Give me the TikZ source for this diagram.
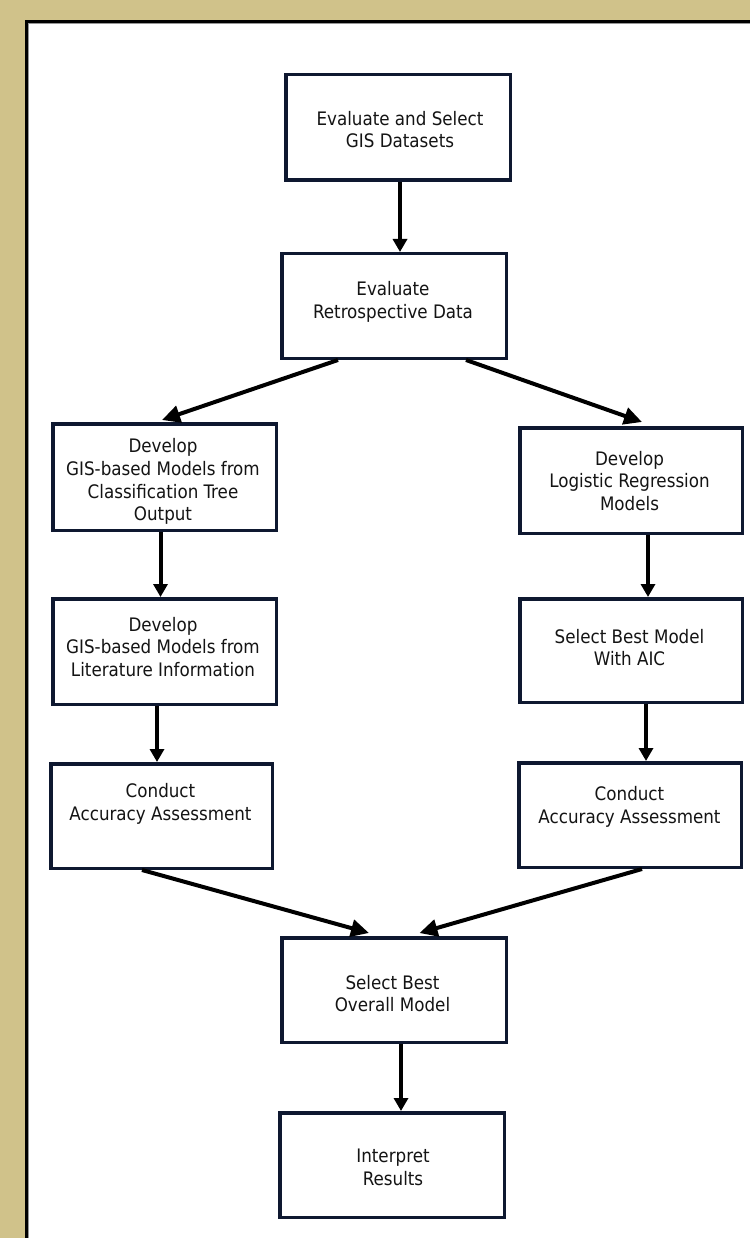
\documentclass[tikz,border=0pt]{standalone}
\usepackage{fontspec}
\setmainfont{DejaVu Sans Condensed}
\usetikzlibrary{arrows.meta,calc}
\definecolor{framebg}{RGB}{208,194,138}
\definecolor{boxc}{RGB}{14,24,48}
\definecolor{textc}{RGB}{20,20,20}
\definecolor{edgegray}{RGB}{150,150,150}
\begin{document}
\begin{tikzpicture}[x=1pt,y=-1pt,
  box/.style 2 args={draw=boxc,line width=3.5pt,fill=white,minimum width=#1,minimum height=#2,inner sep=0pt},
  txt/.style={font=\fontsize{18.6}{22.8}\selectfont,align=center,text=textc,inner sep=0pt},
  arr/.style={line width=4pt,-{Triangle[length=13pt,width=14pt]}},
  darr/.style={line width=4pt,-{Triangle[length=18pt,width=17pt]}}]
\useasboundingbox (0,0) rectangle (750,1238);
% frame
\fill[framebg] (0,0) rectangle (750,1238);
\fill[black] (25,20) rectangle (750,1238);
\fill[edgegray] (28,23) rectangle (750,1238);
\fill[white] (29,24) rectangle (750,1238);
% boxes
\node[box={224.5}{105.5}] (b1) at (398,127.5) {};
\node[box={224.5}{104.5}] (b2) at (394,306) {};
\node[box={223.5}{106.5}] (l1) at (164.5,477) {};
\node[box={222.5}{105.5}] (r1) at (631,480.5) {};
\node[box={223.5}{105.5}] (l2) at (164.5,651.5) {};
\node[box={222.5}{103.5}] (r2) at (631,650.5) {};
\node[box={221.5}{104.5}] (l3) at (161.5,816) {};
\node[box={222.5}{104.5}] (r3) at (630,815) {};
\node[box={224.5}{104.5}] (ov) at (394,990) {};
\node[box={224.5}{104.5}] (ir) at (392,1165) {};
% texts
\node[txt] (b1t) at (400,129.5) {Evaluate and Select\\GIS Datasets};
\node[txt] (b2t) at (393,301.5) {Evaluate\\Retrospective Data};
\node[txt] (l1t) at (163,481.5) {Develop\\GIS-based Models from\\Classification Tree\\Output};
\node[txt] (r1t) at (629.5,481) {Develop\\Logistic Regression\\Models};
\node[txt] (l2t) at (163,647) {Develop\\GIS-based Models from\\Literature Information};
\node[txt] (r2t) at (629.5,647.5) {Select Best Model\\With AIC};
\node[txt] (l3t) at (160.5,803.5) {Conduct\\Accuracy Assessment};
\node[txt] (r3t) at (629.5,807) {Conduct\\Accuracy Assessment};
\node[txt] (ovt) at (392.5,993.5) {Select Best\\Overall Model};
\node[txt] (irt) at (393,1167) {Interpret\\Results};
% connectors
\draw[arr] ([xshift=2pt]b1.south) -- ([xshift=2pt]b1.south |- b2.north);
\draw[darr] ([xshift=-56pt]b2.south) -- ([xshift=-2.5pt,yshift=2pt]l1.north);
\draw[darr] ([xshift=72pt]b2.south) -- ([xshift=11pt,yshift=4pt]r1.north);
\draw[arr] ([xshift=-4pt]l1.south) -- ([xshift=-4pt]l1.south |- l2.north);
\draw[arr] ([xshift=-7.5pt]l2.south) -- ([xshift=-7.5pt]l2.south |- l3.north);
\draw[arr] ([xshift=17pt]r1.south) -- ([xshift=17pt]r1.south |- r2.north);
\draw[arr] ([xshift=15pt]r2.south) -- ([xshift=15pt]r2.south |- r3.north);
\draw[darr] ([xshift=-19.5pt]l3.south) -- ([xshift=-25pt,yshift=3pt]ov.north);
\draw[darr] ([xshift=12pt]r3.south) -- ([xshift=25.5pt,yshift=3pt]ov.north);
\draw[arr] ([xshift=7pt]ov.south) -- ([xshift=7pt]ov.south |- ir.north);
\end{tikzpicture}
\end{document}
